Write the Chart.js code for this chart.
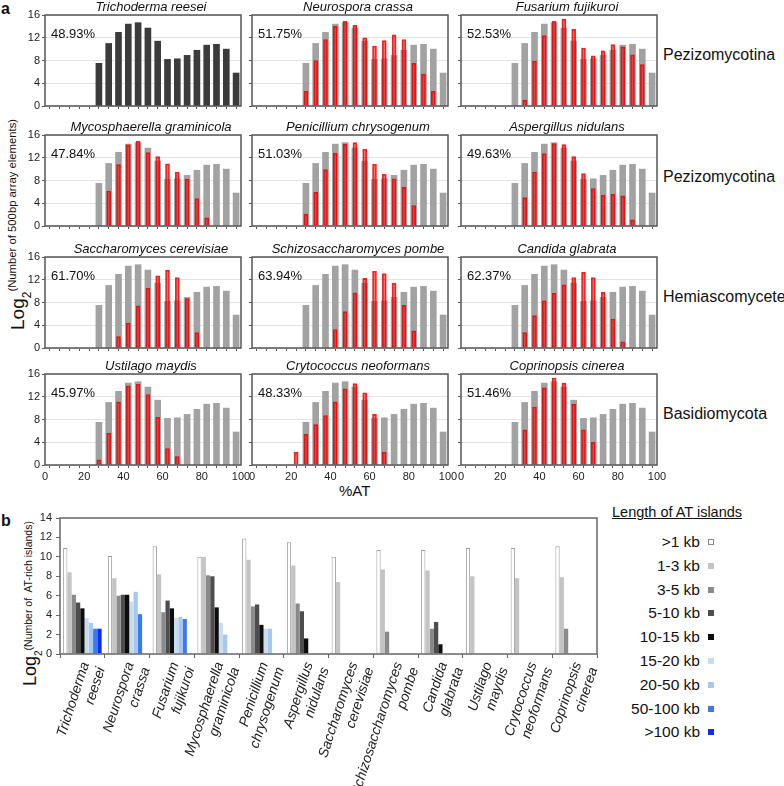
<!DOCTYPE html>
<html>
<head>
<meta charset="utf-8">
<script src="https://cdn.jsdelivr.net/npm/chart.js@4.4.1/dist/chart.umd.min.js"></script>
<style>
  body { margin: 0; background: #fff; font-family: 'Liberation Sans', Arial, sans-serif; color: #111; }
  #wrap { position: relative; width: 784px; height: 786px; overflow: hidden; }
  .abs { position: absolute; white-space: nowrap; }
  canvas { position: absolute; }
  .ttl { font-style: italic; font-size: 13px; transform: translate(-50%, -50%); }
  .pct { font-size: 13px; transform: translateY(-50%); }
  .grp { font-size: 16px; transform: translateY(-50%); }
  .rot { transform-origin: 0 0; transform: rotate(-90deg); line-height: 1; }
  .leg { font-size: 15.5px; transform: translateY(-50%); text-align: right; width: 120px; }
  .sq { position: absolute; width: 6px; height: 6px; box-sizing: border-box; }
</style>
</head>
<body>
<div id="wrap">
  <div class="abs" style="left:1px;top:0px;font-weight:bold;font-size:16px">a</div>
  <div class="abs" style="left:1px;top:512px;font-weight:bold;font-size:16px">b</div>

  <div class="abs rot" style="left:7px;top:330px"><span style="font-size:19px">Log</span><span style="font-size:12px;vertical-align:-7px">2</span><span style="font-size:11.3px;vertical-align:8px">(Number of 500bp array elements)</span></div>
  <div class="abs" style="left:339px;top:482px;font-size:15px">%AT</div>

  <div class="abs grp" style="left:663px;top:55px">Pezizomycotina</div>
  <div class="abs grp" style="left:663px;top:177px">Pezizomycotina</div>
  <div class="abs grp" style="left:663px;top:297px">Hemiascomycete</div>
  <div class="abs grp" style="left:663px;top:414px">Basidiomycota</div>

  <div class="abs rot" style="left:21px;top:686px"><span style="font-size:18px">Log</span><span style="font-size:10px;vertical-align:-6px">2</span><span style="font-size:10.5px;vertical-align:4px">(Number of&nbsp; AT-rich islands)</span></div>

  <div class="abs" style="left:612px;top:504px;font-size:14.5px;text-decoration:underline">Length of AT islands</div>
  <div id="legend"></div>

  <canvas id="cb" width="590" height="276" style="left:20px;top:510px"></canvas>
</div>

<script>
// %AT bins (centre of each 5% window)
const atBins = [2.5, 7.5, 12.5, 17.5, 22.5, 27.5, 32.5, 37.5, 42.5, 47.5, 52.5, 57.5, 62.5, 67.5, 72.5, 77.5, 82.5, 87.5, 92.5, 97.5];
const _ = null;

// log2 number of 500bp array elements per bin
const reeseiLog2      = [_, _, _, _, _, 7.5, 11.0, 12.95, 14.4, 14.65, 13.7, 11.4, 8.2, 8.3, 8.9, 9.8, 10.7, 10.85, 10.0, 5.8];
const crassaLog2      = [_, _, _, _, _, 2.6, 8.0, 11.7, 14.0, 14.9, 14.2, 12.0, 10.55, 11.5, 12.5, 11.7, 7.5, 5.6, 2.6, _];
const fujikuroiLog2   = [_, _, _, _, _, _, 1.05, 7.9, 12.4, 14.95, 15.3, 13.5, 10.2, 8.8, 9.7, 10.8, 10.4, 9.0, 7.3, _];
const graminicolaLog2 = [_, _, _, _, _, _, 6.15, 10.8, 14.25, 14.95, 12.9, 12.2, 10.95, 9.5, 8.2, 4.8, 1.45, _, _, _];
const chrysogenumLog2 = [_, _, _, _, _, 2.1, 5.9, 9.9, 12.8, 14.4, 14.65, 13.5, 10.9, 9.1, 8.3, 6.8, 3.6, _, _, _];
const nidulansLog2    = [_, _, _, _, _, _, 5.0, 9.5, 12.75, 14.5, 14.3, 12.2, 9.2, 6.6, 5.45, 5.55, 5.3, 1.1, _, _];
const cerevisiaeLog2  = [_, _, _, _, _, _, _, 2.0, 4.4, 7.4, 10.5, 12.7, 13.7, 12.4, 8.7, 2.7, _, _, _, _];
const pombeLog2       = [_, _, _, _, _, _, _, _, 3.25, 6.4, 9.7, 12.25, 13.5, 13.1, 11.4, 7.5, 3.0, _, _, _];
const glabrataLog2    = [_, _, _, _, _, _, 2.7, 5.7, 8.3, 9.6, 11.1, 12.4, 13.3, 12.4, 9.8, 5.1, 1.1, _, _, _];
const maydisLog2      = [_, _, _, _, _, 0.9, 5.6, 11.1, 13.9, 14.2, 12.4, 8.4, 2.9, 1.5, _, _, _, _, _, _];
const neoformansLog2  = [_, _, _, _, 2.25, 5.4, 7.1, 8.7, 11.1, 13.4, 14.3, 12.7, 8.9, 2.25, _, _, _, _, _, _];
const cinereaLog2     = [_, _, _, _, _, _, 6.2, 10.2, 13.55, 15.3, 14.4, 10.7, 6.2, 4.0, _, _, _, _, _, _];

const speciesA = ['Trichoderma reesei', 'Neurospora crassa', 'Fusarium fujikuroi',
  'Mycosphaerella graminicola', 'Penicillium chrysogenum', 'Aspergillus nidulans',
  'Saccharomyces cerevisiae', 'Schizosaccharomyces pombe', 'Candida glabrata',
  'Ustilago maydis', 'Crytococcus neoformans', 'Coprinopsis cinerea'];
const atContent = ['48.93%', '51.75%', '52.53%', '47.84%', '51.03%', '49.63%',
  '61.70%', '63.94%', '62.37%', '45.97%', '48.33%', '51.46%'];
const speciesSeries = [null, crassaLog2, fujikuroiLog2, graminicolaLog2, chrysogenumLog2, nidulansLog2,
  cerevisiaeLog2, pombeLog2, glabrataLog2, maydisLog2, neoformansLog2, cinereaLog2];

// panel b: log2 number of AT-rich islands by length class
const speciesB = [['Trichoderma', 'reesei'], ['Neurospora', 'crassa'], ['Fusarium', 'fujikuroi'],
  ['Mycosphaerella', 'graminicola'], ['Penicillium', 'chrysogenum'], ['Aspergillus', 'nidulans'],
  ['Saccharomyces', 'cerevisiae'], ['Schizosaccharomyces', 'pombe'], ['Candida', 'glabrata'],
  ['Ustilago', 'maydis'], ['Crytococcus', 'neoformans'], ['Coprinopsis', 'cinerea']];
const sizeLabels = ['>1 kb', '1-3 kb', '3-5 kb', '5-10 kb', '10-15 kb', '15-20 kb', '20-50 kb', '50-100 kb', '>100 kb'];
const over1kb  = [10.9, 10.1, 11.1, 10.0, 11.9, 11.5, 10.0, 10.7, 10.7, 10.9, 10.9, 11.1];
const kb1to3   = [8.4, 7.8, 8.2, 10.0, 9.7, 9.1, 7.4, 8.7, 8.6, 8.0, 7.8, 7.9];
const kb3to5   = [6.1, 6.0, 4.3, 8.1, 4.9, 5.2, _, 2.3, 2.6, _, _, 2.6];
const kb5to10  = [5.3, 6.1, 5.5, 8.0, 5.1, 4.4, _, _, 3.3, _, _, _];
const kb10to15 = [4.7, 6.1, 4.7, 4.8, 3.0, 1.6, _, _, 1.0, _, _, _];
const kb15to20 = [3.7, 5.4, 3.7, 3.2, 2.6, _, _, _, _, _, _, _];
const kb20to50 = [3.2, 6.4, 3.8, 2.0, 2.6, _, _, _, _, _, _, _];
const kb50to100 = [2.6, 4.1, 3.6, _, _, _, _, _, _, _, _, _];
const over100kb = [2.6, _, _, _, _, _, _, _, _, _, _, _];
const islandSeries = [over1kb, kb1to3, kb3to5, kb5to10, kb10to15, kb15to20, kb20to50, kb50to100, over100kb];

const sizeColors = ['#ffffff', '#c4c4c4', '#8a8a8a', '#4d4d4d', '#0d0d0d', '#c6ddf2', '#a6c8ec', '#3b78f2', '#0a2cf5'];

Chart.defaults.font.family = "'Liberation Sans', Arial, sans-serif";
Chart.defaults.color = '#222';

// frame around the plot area
const boxPlugin = {
  id: 'box',
  afterDatasetsDraw(chart, args, opts) {
    const a = chart.chartArea, ctx = chart.ctx;
    ctx.save();
    ctx.strokeStyle = opts.color;
    ctx.lineWidth = opts.width;
    ctx.strokeRect(a.left, a.top, a.right - a.left, a.bottom - a.top);
    ctx.restore();
  }
};

function toPoints(vals) {
  const pts = [];
  vals.forEach((v, k) => { if (v !== null) pts.push({ x: atBins[k], y: v }); });
  return pts;
}

const wrap = document.getElementById('wrap');
const colLeft = [45, 252, 461];
const rowTop = [15, 135, 257, 374];
const PW = 196, PH = 91, AX_L = 30, PAD_T = 7, PAD_R = 12, AX_B = 20;

speciesA.forEach((name, i) => {
  const c = i % 3, r = Math.floor(i / 3);
  const showY = c === 0, showX = r === 3;
  const cv = document.createElement('canvas');
  cv.width = AX_L + PW + PAD_R;
  cv.height = PAD_T + PH + AX_B;
  cv.style.left = (colLeft[c] - AX_L) + 'px';
  cv.style.top = (rowTop[r] - PAD_T) + 'px';
  wrap.appendChild(cv);

  const red = speciesSeries[i];
  const datasets = [];
  if (red) {
    datasets.push({ data: toPoints(red), backgroundColor: 'rgba(255,10,10,0.6)',
      borderColor: 'rgba(230,0,0,0.85)', borderWidth: 1, barThickness: 4, grouped: false });
  }
  datasets.push({ data: toPoints(reeseiLog2), backgroundColor: red ? '#a2a2a2' : '#3b3b3b',
    barThickness: 6, grouped: false });

  new Chart(cv, {
    type: 'bar',
    data: { datasets },
    options: {
      responsive: false, animation: false, devicePixelRatio: 1,
      layout: { padding: { top: PAD_T, right: PAD_R, left: 0, bottom: 0 } },
      plugins: { legend: { display: false }, tooltip: { enabled: false }, box: { color: '#555', width: 1.5 } },
      scales: {
        x: {
          type: 'linear', min: 0, max: 100, offset: false,
          ticks: { stepSize: 5, autoSkip: false, maxRotation: 0, padding: 2, font: { size: 11 },
            callback: v => (showX && v % 20 === 0) ? v : '' },
          grid: { drawOnChartArea: false, tickLength: 3, tickColor: '#555' },
          border: { display: false },
          afterFit: s => { s.height = AX_B; s.paddingLeft = 0; s.paddingRight = 0; }
        },
        y: {
          min: 0, max: 16,
          ticks: { stepSize: 2, padding: 2, font: { size: 11 },
            callback: v => (showY && v % 4 === 0) ? v : '' },
          grid: { color: '#e3e3e3', tickLength: 3, tickColor: '#555' },
          border: { display: false },
          afterFit: s => { s.width = AX_L; s.paddingTop = 0; s.paddingBottom = 0; }
        }
      }
    },
    plugins: [boxPlugin]
  });

  const t = document.createElement('div');
  t.className = 'abs ttl';
  t.textContent = name;
  t.style.left = (colLeft[c] + PW / 2 + 8) + 'px';
  t.style.top = (rowTop[r] - 9) + 'px';
  wrap.appendChild(t);

  const p = document.createElement('div');
  p.className = 'abs pct';
  p.textContent = atContent[i];
  p.style.left = (colLeft[c] + 6) + 'px';
  p.style.top = (rowTop[r] + 18) + 'px';
  wrap.appendChild(p);
});

// panel b
new Chart(document.getElementById('cb'), {
  type: 'bar',
  data: {
    labels: speciesB,
    datasets: sizeLabels.map((lab, k) => ({
      label: lab, data: islandSeries[k], backgroundColor: sizeColors[k],
      borderColor: k === 0 ? '#9a9a9a' : sizeColors[k], borderWidth: k === 0 ? 1 : 0,
      categoryPercentage: 0.86, barPercentage: 1
    }))
  },
  options: {
    responsive: false, animation: false, devicePixelRatio: 1,
    layout: { padding: { top: 8, right: 13, left: 0, bottom: 0 } },
    plugins: { legend: { display: false }, tooltip: { enabled: false }, box: { color: '#666', width: 1.5 } },
    scales: {
      x: {
        ticks: { minRotation: 72, maxRotation: 72, autoSkip: false, padding: 2, labelOffset: 3,
          font: { size: 14, style: 'italic' }, color: '#222' },
        grid: { offset: true, drawOnChartArea: false, tickLength: 4, tickColor: '#666' },
        border: { display: false },
        afterFit: s => { s.height = 132; s.paddingLeft = 0; s.paddingRight = 0; }
      },
      y: {
        min: 0, max: 14,
        ticks: { stepSize: 2, padding: 4, font: { size: 11 } },
        grid: { drawOnChartArea: false, tickLength: 4, tickColor: '#666' },
        border: { display: false },
        afterFit: s => { s.width = 40; s.paddingTop = 0; s.paddingBottom = 0; }
      }
    }
  },
  plugins: [boxPlugin]
});

// legend for panel b
const leg = document.getElementById('legend');
sizeLabels.forEach((lab, k) => {
  const y = 542 + k * 23.8;
  const d = document.createElement('div');
  d.className = 'abs leg';
  d.textContent = lab;
  d.style.left = '580px';
  d.style.top = y + 'px';
  leg.appendChild(d);
  const s = document.createElement('div');
  s.className = 'sq';
  s.style.left = '708px';
  s.style.top = (y - 3) + 'px';
  s.style.background = sizeColors[k];
  s.style.border = k === 0 ? '1px solid #888' : 'none';
  leg.appendChild(s);
});
</script>
</body>
</html>
